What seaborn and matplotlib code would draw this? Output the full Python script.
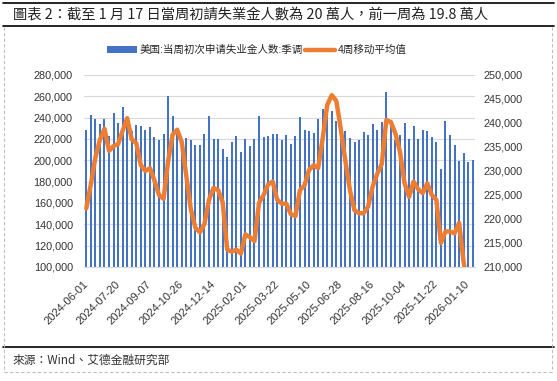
import numpy as np
import pandas as pd
import seaborn as sns
import matplotlib
matplotlib.use('Agg')
from matplotlib import pyplot as plt
from matplotlib.lines import Line2D
from matplotlib.ticker import FuncFormatter

# weekly dates (Saturday week ending)
dates = pd.date_range('2024-06-01', '2026-01-17', freq='7D').strftime('%Y-%m-%d').tolist()

# initial jobless claims, seasonally adjusted (left axis)
claims = [228400, 242500, 238800, 234100, 238800, 222800, 244400, 235000, 250000, 233000,
          227500, 233100, 232200, 228500, 231300, 221900, 219100, 224700, 260300, 241600,
          228000, 217000, 220600, 219100, 214400, 214400, 224700, 241600, 220000, 220000,
          210600, 203100, 217200, 222800, 207800, 220000, 213400, 220000, 241600, 221900,
          222800, 224700, 224700, 219100, 223800, 215300, 222800, 240600, 228400, 227500,
          225600, 238800, 248100, 247000, 246300, 236900, 232200, 227500, 220900, 217200,
          219100, 226600, 223800, 234100, 228400, 235900, 264100, 232200, 219000, 223800,
          235000, 220000, 232200, 220000, 228400, 227500, 221900, 217200, 191900, 236900,
          223800, 214400, 199700, 206900, 198000, 200000]

# 4-week moving average (right axis)
ma4 = [222200, 227200, 232800, 236500, 238800, 234200, 235200, 235600, 238400, 241000,
       236600, 235800, 231200, 230000, 230600, 228000, 225000, 224200, 232000, 237600,
       238600, 236000, 229000, 222000, 218200, 217200, 219000, 224000, 226500, 226000,
       223500, 213600, 213200, 213600, 212800, 216800, 216200, 215400, 223400, 225000,
       227200, 227800, 224000, 223200, 223200, 221000, 220600, 226000, 227000, 230200,
       231200, 230600, 236800, 243800, 245800, 244600, 238600, 232000, 226000, 221800,
       221200, 221200, 222600, 226800, 229400, 231500, 240600, 240200, 237800, 234000,
       227500, 224600, 227800, 226200, 225400, 227400, 225000, 224000, 215000, 217400,
       217400, 217000, 219200, 211000, 205000, 201000]

bar_label = '美国:当周初次申请失业金人数:季调'
line_label = '4周移动平均值'
title = '圖表 2：截至 1 月 17 日當周初請失業金人數為 20 萬人，前一周為 19.8 萬人'
source = '來源：Wind、艾德金融研究部'

sns.set_style('white')
plt.rcParams['font.family'] = ['Liberation Sans', 'Noto Sans CJK SC', 'DejaVu Sans']

df = pd.DataFrame({'date': dates, 'claims': claims, 'ma4': ma4})
df['pos'] = np.arange(len(df))

fig = plt.figure(figsize=(5.57, 3.81), dpi=100)
ax = fig.add_axes([84 / 557, 1 - 267 / 381, 391 / 557, 192 / 381])

sns.barplot(data=df, x='date', y='claims', color='#4472C4', saturation=1,
            width=0.44, linewidth=0, ax=ax, label=bar_label)
ax.set_ylim(100000, 280000)
ax.set_yticks(np.arange(100000, 280001, 20000))
ax.yaxis.set_major_formatter(FuncFormatter(lambda v, p: f'{v:,.0f}'))
ax.grid(axis='y', color='#D9D9D9', lw=0.8)
ax.set_axisbelow(True)
ax.set_xlim(-0.5, len(df) - 0.5)
ax.set_xlabel('')
ax.set_ylabel('')

ax2 = ax.twinx()
sns.lineplot(data=df, x='pos', y='ma4', color='#ED7D31', lw=3.2, ax=ax2,
             label=line_label, solid_joinstyle='round', solid_capstyle='round')
ax2.set_ylim(210000, 250000)
ax2.set_yticks(np.arange(210000, 250001, 5000))
ax2.yaxis.set_major_formatter(FuncFormatter(lambda v, p: f'{v:,.0f}'))
ax2.set_xlim(-0.5, len(df) - 0.5)
ax2.set_ylabel('')
ax2.set_xlabel('')
ax2.get_legend().remove()

# x ticks: labels every 7 weeks, small marks between categories
ax.set_xticks(df['pos'][::7])
ax.set_xticklabels(df['date'][::7], rotation=45, ha='right', va='center',
                   rotation_mode='anchor', fontsize=8, color='#333333')
ax.tick_params(axis='x', which='major', length=0, pad=11)
ax.set_xticks(np.arange(-0.5, len(df), 1), minor=True)
ax.tick_params(axis='x', which='minor', length=3, color='#BFBFBF', width=0.6)
ax.tick_params(axis='y', length=0, pad=8, labelsize=7.8, labelcolor='#333333')
ax2.tick_params(axis='y', length=0, pad=6, labelsize=7.8, labelcolor='#333333')

for a in (ax, ax2):
    for s in ('left', 'right', 'top'):
        a.spines[s].set_visible(False)
    a.spines['bottom'].set_color('#D9D9D9')

# legend
h1, l1 = ax.get_legend_handles_labels()
h2, l2 = ax2.get_legend_handles_labels()
if ax.get_legend():
    ax.get_legend().remove()
fig.legend(h1 + h2, l1 + l2, loc='center', bbox_to_anchor=(257 / 557, 1 - 50 / 381),
           ncol=2, frameon=False, fontsize=7.6, handlelength=2.8, handleheight=0.6,
           columnspacing=0.2, handletextpad=0.3)

# title, source and frame lines
fig.text(13 / 557, 1 - 15 / 381, title, fontsize=10.3, va='center', ha='left',
         family=['Noto Sans CJK TC', 'DejaVu Sans'], color='#222222')
fig.text(13 / 557, 1 - 360 / 381, source, fontsize=8.5, va='center', ha='left',
         family=['Noto Sans CJK TC', 'DejaVu Sans'], color='#333333')

fig.add_artist(Line2D([0.005, 0.995], [1 - 3 / 381] * 2, color='black', lw=1.2))
fig.add_artist(Line2D([0.005, 0.995], [1 - 26 / 381] * 2, color='black', lw=1.2))
fig.add_artist(Line2D([0.005, 0.995], [1 - 347 / 381] * 2, color='black', lw=1.2))
fig.add_artist(Line2D([4 / 557, 552 / 557], [1 - 372 / 381] * 2, color='#BFBFBF',
                      lw=0.8, ls=(0, (3, 2))))
for xx in (4 / 557, 552 / 557):
    fig.add_artist(Line2D([xx, xx], [1 - 27 / 381, 1 - 372 / 381], color='#BFBFBF',
                          lw=0.8, ls=(0, (3, 2))))

fig.savefig('out.png', dpi=100)
